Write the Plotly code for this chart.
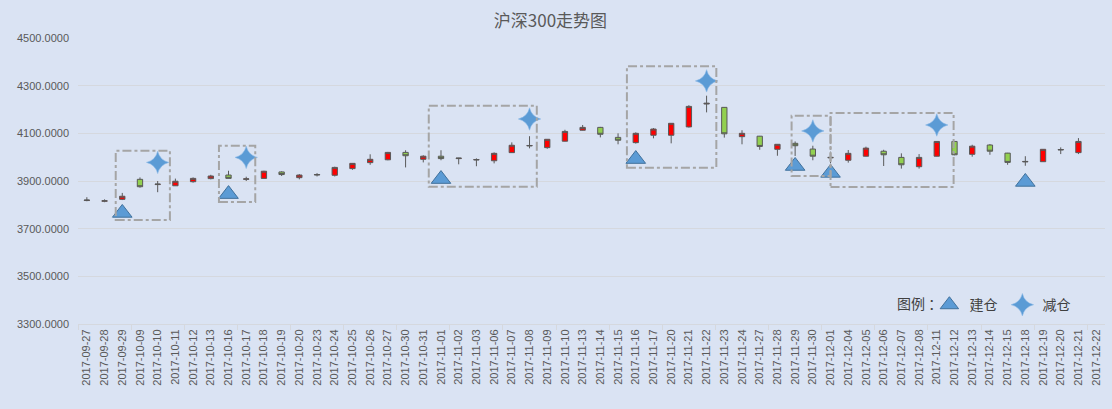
import plotly.graph_objects as go

# ---------------- data ----------------
dates = [
    "2017-09-27", "2017-09-28", "2017-09-29", "2017-10-09", "2017-10-10", "2017-10-11",
    "2017-10-12", "2017-10-13", "2017-10-16", "2017-10-17", "2017-10-18", "2017-10-19",
    "2017-10-20", "2017-10-23", "2017-10-24", "2017-10-25", "2017-10-26", "2017-10-27",
    "2017-10-30", "2017-10-31", "2017-11-01", "2017-11-02", "2017-11-03", "2017-11-06",
    "2017-11-07", "2017-11-08", "2017-11-09", "2017-11-10", "2017-11-13", "2017-11-14",
    "2017-11-15", "2017-11-16", "2017-11-17", "2017-11-20", "2017-11-21", "2017-11-22",
    "2017-11-23", "2017-11-24", "2017-11-27", "2017-11-28", "2017-11-29", "2017-11-30",
    "2017-12-01", "2017-12-04", "2017-12-05", "2017-12-06", "2017-12-07", "2017-12-08",
    "2017-12-11", "2017-12-12", "2017-12-13", "2017-12-14", "2017-12-15", "2017-12-18",
    "2017-12-19", "2017-12-20", "2017-12-21", "2017-12-22",
]

open_ = [3818, 3815, 3823, 3907, 3885, 3880, 3897, 3910, 3925, 3907, 3911, 3938,
         3914, 3925, 3924, 3952, 3977, 3989, 4020, 3991, 4004, 3994, 3988, 3985,
         4019, 4047, 4040, 4067, 4113, 4125, 4083, 4061, 4092, 4092, 4127, 4223,
         4209, 4086, 4088, 4033, 4058, 4034, 3997, 3987, 4004, 4025, 3999, 3960,
         4004, 4066, 4012, 4051, 4017, 3980, 3981, 4030, 4019, None]
high = [3832, 3823, 3850, 3915, 3900, 3910, 3915, 3926, 3943, 3918, 3943, 3941,
        3929, 3933, 3960, 3975, 4012, 4022, 4029, 4008, 4029, 3997, 3995, 4020,
        4062, 4088, 4076, 4115, 4135, 4127, 4100, 4104, 4122, 4143, 4218, 4258,
        4210, 4113, 4089, 4055, 4066, 4048, 4023, 4030, 4044, 4031, 4016, 4013,
        4067, 4068, 4052, 4055, 4018, 4004, 4034, 4041, 4080, None]
low = [3815, 3811, 3820, 3872, 3853, 3879, 3893, 3907, 3911, 3900, 3910, 3921,
       3907, 3919, 3919, 3947, 3968, 3987, 3957, 3978, 3987, 3970, 3962, 3974,
       4018, 4037, 4035, 4066, 4112, 4083, 4054, 4057, 4079, 4058, 4124, 4188,
       4082, 4054, 4031, 4006, 4005, 3987, 3974, 3977, 4003, 3963, 3952, 3952,
       4003, 4008, 4002, 4010, 3968, 3964, 3980, 4013, 4013, None]
close = [3820, 3817, 3836, 3876, 3887, 3899, 3911, 3921, 3911, 3909, 3941, 3927,
         3925, 3927, 3957, 3974, 3991, 4020, 4006, 4004, 3994, 3996, 3990, 4016,
         4050, 4049, 4075, 4108, 4125, 4096, 4071, 4100, 4118, 4142, 4213, 4226,
         4098, 4100, 4045, 4054, 4048, 4004, 3999, 4016, 4038, 4010, 3968, 3999,
         4066, 4010, 4046, 4025, 3978, 3982, 4033, 4032, 4066, None]

# 建仓 (open position) signals
buy_dates = ["2017-09-29", "2017-10-16", "2017-11-01", "2017-11-16",
             "2017-11-29", "2017-12-01", "2017-12-18"]
buy_values = [3766, 3845, 3908, 3992, 3963, 3934, 3896]

# 减仓 (reduce position) signals
sell_dates = ["2017-10-10", "2017-10-17", "2017-11-08", "2017-11-22",
              "2017-11-30", "2017-12-11"]
sell_values = [3978, 3999, 4160, 4320, 4110, 4135]

# highlighted zones: (first category index, last category index, low value, high value)
zones = [
    (1.63, 4.69, 3736, 4027),
    (7.46, 9.51, 3812, 4048),
    (19.31, 25.41, 3876, 4216),
    (30.50, 35.55, 3956, 4381),
    (39.80, 42.00, 3921, 4174),
    (42.00, 48.95, 3875, 4185),
]

y_ticks = [3300, 3500, 3700, 3900, 4100, 4300, 4500]

# ---------------- figure ----------------
BG = "#DAE3F3"
TXT = "#595959"
GRID = "#D5D8DE"
BLUE = "#5B9BD5"
CJK = "Noto Sans CJK SC"
NUM = "Liberation Sans, Noto Sans CJK SC"

fig = go.Figure()

fig.add_trace(go.Candlestick(
    x=dates, open=open_, high=high, low=low, close=close,
    increasing=dict(fillcolor="#FF0000", line=dict(color="#595959", width=1)),
    decreasing=dict(fillcolor="#92D050", line=dict(color="#595959", width=1)),
    whiskerwidth=0,
    showlegend=False, name="沪深300",
))

fig.add_trace(go.Scatter(
    x=buy_dates, y=buy_values, mode="markers", name="建仓",
    marker=dict(symbol="triangle-up", size=17, color=BLUE,
                line=dict(color="#41719C", width=1)),
))

fig.add_trace(go.Scatter(
    x=sell_dates, y=sell_values, mode="markers", name="减仓",
    marker=dict(symbol="star-diamond", size=16, color=BLUE,
                line=dict(color="#8DBBE8", width=0.6)),
))

# invisible helper trace for the secondary tick axis
fig.add_trace(go.Scatter(
    x=[-0.5], y=[None], xaxis="x2", mode="markers",
    showlegend=False, hoverinfo="skip",
))

for x0, x1, y0, y1 in zones:
    fig.add_shape(type="rect", xref="x", yref="y", x0=x0, x1=x1, y0=y0, y1=y1,
                  line=dict(color="#A5A5A5", width=2, dash="dashdot"),
                  fillcolor="rgba(0,0,0,0)", layer="above")

fig.add_annotation(
    text="图例 ：", xref="paper", yref="paper", x=0.8435, y=0.072,
    xanchor="right", yanchor="middle", showarrow=False,
    font=dict(family=CJK, size=14, color="#404040"),
)

n = len(dates)
fig.update_layout(
    width=1112, height=409,
    paper_bgcolor=BG, plot_bgcolor=BG,
    margin=dict(l=78, r=7, t=38, b=85, autoexpand=False),
    title=dict(text="沪深300走势图", x=0.495, y=0.949, xanchor="center", yanchor="middle",
               font=dict(family=CJK, size=17, color=TXT)),
    boxgap=0.57,
    showlegend=True,
    legend=dict(orientation="h", x=0.829, y=0.066, xanchor="left", yanchor="middle",
                bgcolor="rgba(0,0,0,0)", font=dict(family=CJK, size=14, color="#404040"),
                itemwidth=30, tracegroupgap=0),
    xaxis=dict(
        type="category", categoryorder="array", categoryarray=dates,
        range=[-0.5, n - 0.5], rangeslider=dict(visible=False), automargin=False,
        tickangle=-90, tickfont=dict(family=NUM, size=11, color=TXT),
        showgrid=False, showline=True, linecolor=GRID, linewidth=1,
        ticks="", fixedrange=True,
    ),
    xaxis2=dict(
        overlaying="x", anchor="y", side="bottom", range=[-0.5, n - 0.5],
        tickmode="array", tickvals=[i - 0.5 for i in range(0, n + 1, 3)],
        ticks="outside", ticklen=5, tickcolor=GRID, tickwidth=1, automargin=False,
        showticklabels=False, showgrid=False, zeroline=False, showline=False,
    ),
    yaxis=dict(
        range=[3300, 4500], tickmode="array", tickvals=y_ticks, automargin=False,
        tickformat=".4f", tickfont=dict(family=NUM, size=11, color=TXT),
        showgrid=True, gridcolor=GRID, gridwidth=1, zeroline=False,
        showline=False, ticks="", ticklabelstandoff=8,
    ),
)

fig.write_html("out.html", config={"displayModeBar": False},
               post_script="document.body.style.margin='0';")
